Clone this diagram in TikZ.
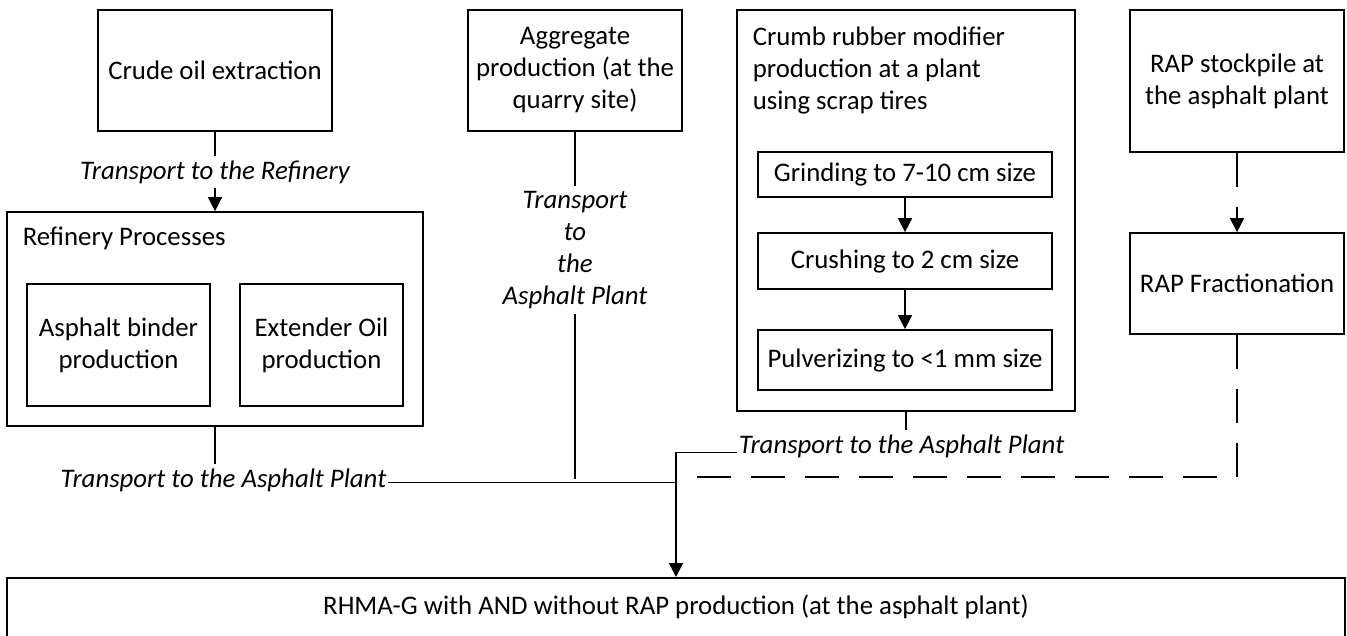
\documentclass[tikz,border=0pt]{standalone}
\usepackage{fontspec}
\setmainfont{Carlito}
\usetikzlibrary{positioning, arrows.meta, calc}

\begin{document}
\begin{tikzpicture}[x=0.5pt, y=-0.5pt, line width=0.75pt,
                    font=\fontsize{13.4}{16}\selectfont,
                    procbox/.style={draw, line width=0.85pt, align=center, inner sep=3pt},
                    transport/.style={font=\fontsize{13.4}{16}\selectfont\itshape, align=center, inner xsep=0.5pt, inner ysep=2pt},
                    flow/.style={-{Triangle[length=7pt, width=7pt]}},
                    rapdash/.style={dash pattern=on 17pt off 10pt}]
    \useasboundingbox (0,0) rectangle (1347,636);

    % Source boxes along the top
    \node[procbox, minimum width=117pt, minimum height=60.5pt] (crude) at (215,70.5) {Crude oil extraction};
    \node[procbox, minimum width=107pt, minimum height=60.5pt] (aggregate) at (575,70.5) {Aggregate\\production (at the\\quarry site)};
    \node[procbox, minimum width=107pt, minimum height=71pt] (stock) at (1237,81) {RAP stockpile at\\the asphalt plant};

    % Refinery group
    \node[procbox, minimum width=208pt, minimum height=107pt] (refinery) at (215,319) {};
    \node[anchor=west, inner sep=0pt] (reftitle) at (22,238) {Refinery Processes};
    \node[procbox, minimum width=91.5pt, minimum height=61pt] (binder) at (118.5,345) {Asphalt binder\\production};
    \node[procbox, minimum width=81.5pt, minimum height=61pt] (extender) at (321.5,345) {Extender Oil\\production};

    % Crumb rubber group
    \node[procbox, minimum width=169pt, minimum height=200.5pt] (crumb) at (906,210.5) {};
    \node[anchor=west, align=left, inner sep=0pt] (crumbtitle) at (752,70.5) {Crumb rubber modifier\\production at a plant\\using scrap tires};
    \node[procbox, minimum width=147pt, minimum height=22.5pt] (grind) at (905,174.5) {Grinding to 7-10 cm size};
    \node[procbox, minimum width=147pt, minimum height=28pt] (crush) at (905,261) {Crushing to 2 cm size};
    \node[procbox, minimum width=147pt, minimum height=30pt] (pulver) at (905,360) {Pulverizing to <1 mm size};

    % RAP
    \node[procbox, minimum width=107pt, minimum height=50.5pt] (frac) at (1237,283.5) {RAP Fractionation};

    % Final production
    \node[procbox, anchor=north, minimum width=669pt, inner ysep=4pt,
          text height=14.25pt, text depth=20pt] (final) at (676,577)
          {RHMA-G with AND without RAP production (at the asphalt plant)};

    % Transport labels
    \node[transport] (toref) at (215,172) {Transport to the Refinery};
    \node[transport] (toplant1) at (223.5,480) {Transport to the Asphalt Plant};
    \node[transport] (toplant2) at (575,250) {Transport\\to\\the\\Asphalt Plant};
    \node[transport] (toplant3) at (901.5,446) {Transport to the Asphalt Plant};

    \coordinate (join) at (676,479);
    \coordinate (rapend) at (696,477);

    % Connectors
    \draw (crude) -- (toref);
    \draw[flow] (toref) -- (refinery);
    \draw (refinery.south) -- (refinery.south |- toplant1.north);
    \draw (toplant1.mid east) -- (toplant1.mid east -| join);
    \draw (aggregate) -- (toplant2);
    \draw (toplant2.south) -- (toplant2.south |- join);
    \draw[flow] (grind) -- (crush);
    \draw[flow] (crush) -- (pulver);
    \draw (crumb.south) -- (crumb.south |- toplant3.north);
    \draw[flow] ([yshift=-2pt]toplant3.mid west) -| (final.north);
    \draw[rapdash, flow] (stock) -- (frac);
    \draw[rapdash] (frac.south) |- (rapend);
\end{tikzpicture}
\end{document}
